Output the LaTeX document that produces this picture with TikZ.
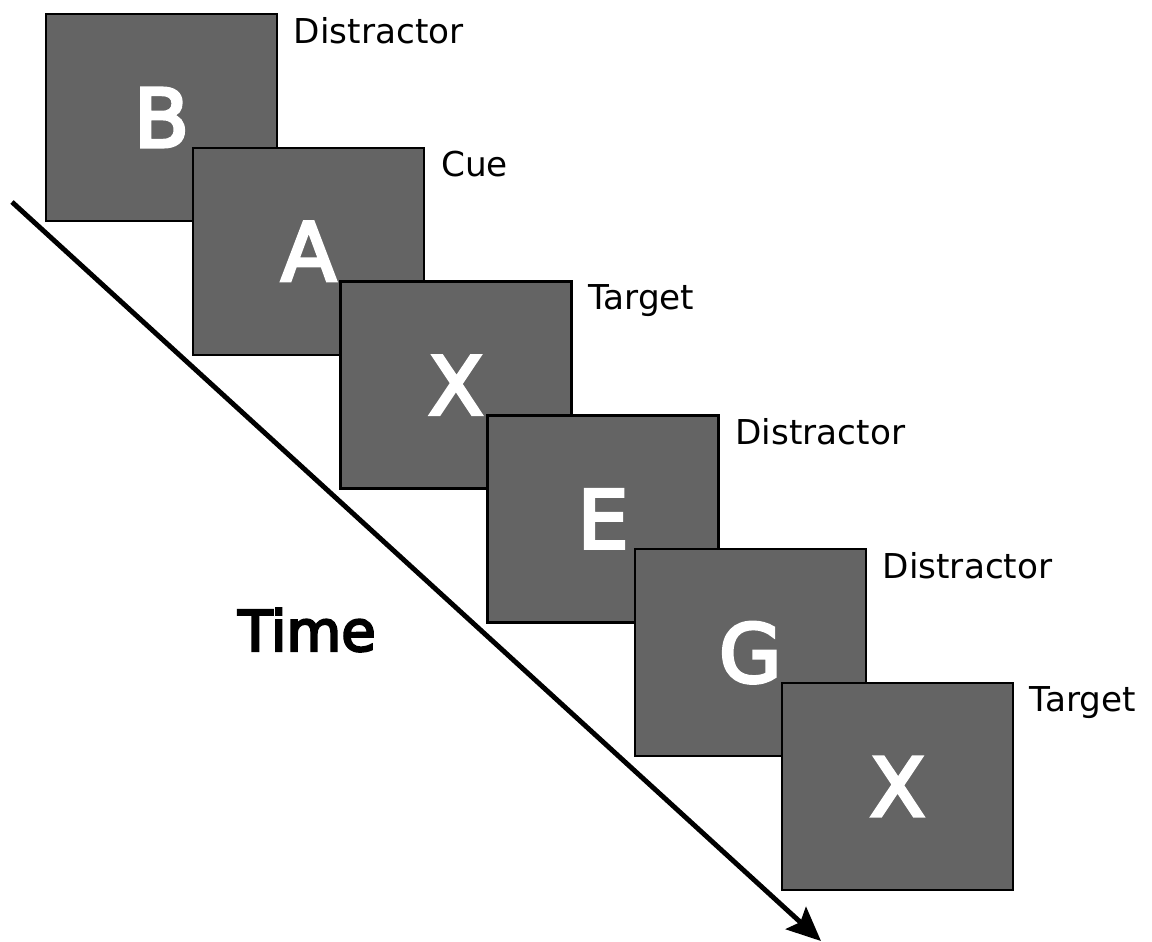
\documentclass[tikz,border=0pt]{standalone}
\usepackage{fontspec}
\setmainfont{DejaVu Sans}
\newfontfamily\heavyfont[FakeBold=4]{DejaVu Sans}
\usetikzlibrary{arrows.meta,positioning}

\definecolor{screengray}{RGB}{100,100,100}

\tikzset{
   screen/.style={draw=black, line width=1.3pt, fill=screengray, text=white,
      minimum width=4.62cm, minimum height=4.14cm, inner sep=0pt,
      font=\heavyfont\fontsize{46}{46}\selectfont},
   lbl/.style={anchor=north west, inner sep=0pt, font=\fontsize{19.5}{20}\selectfont},
}

\begin{document}
\begin{tikzpicture}[x=0.02cm, y=-0.02cm]

   \useasboundingbox (0,0) rectangle (1152,941);

   % 時間軸
   \coordinate (t0) at (12,202);
   \coordinate (t1) at (821,941);
   \draw [line width=2.8pt, -{Stealth[length=0.68cm, width=0.6cm, inset=0.12cm]}] (t0)--(t1);
   \node (time) at (307,630) {\heavyfont\fontsize{32}{32}\selectfont Time};

   % 画面
   \foreach \ch/\txt [count=\i from 0] in {B/Distractor, A/Cue, X/Target, E/Distractor, G/Distractor, X/Target}{
      \node [screen] (s\i) at ({161.5+147.2*\i},{117.5+133.8*\i}) {\ch};
      \node [lbl] (l\i) at ([xshift=0.31cm, yshift=-0.08cm]s\i.north east) {\txt};
   }

\end{tikzpicture}
\end{document}
